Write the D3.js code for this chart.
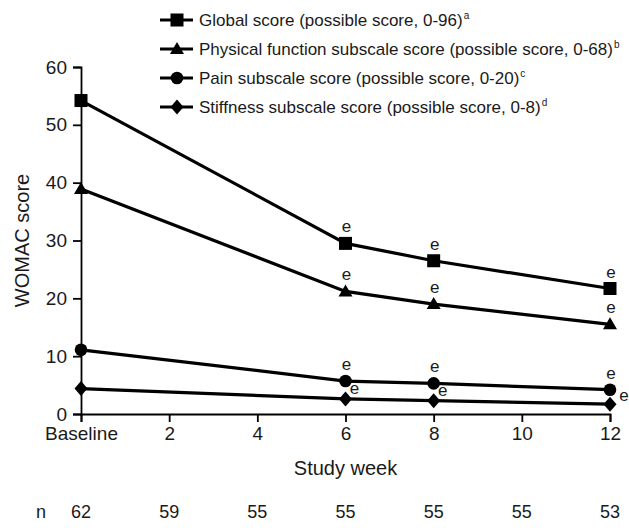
<!DOCTYPE html>
<html>
<head>
<meta charset="utf-8">
<script src="https://cdn.jsdelivr.net/npm/d3@7"></script>
<style>
  body { margin: 0; background: #fff; }
  svg { display: block; font-family: "Liberation Sans", Arial, Helvetica, sans-serif; }
</style>
</head>
<body>
<svg id="chart" width="629" height="528"></svg>
<script>
// Study weeks and WOMAC scores per scale
const weeks = [0, 6, 8, 12];
const globalScore = [54.2, 29.5, 26.5, 21.7];
const physicalScore = [38.9, 21.2, 19.0, 15.5];
const painScore = [11.1, 5.7, 5.3, 4.2];
const stiffnessScore = [4.4, 2.6, 2.3, 1.7];

const seriesNames = [
  "Global score (possible score, 0-96)",
  "Physical function subscale score (possible score, 0-68)",
  "Pain subscale score (possible score, 0-20)",
  "Stiffness subscale score (possible score, 0-8)"
];
const footnotes = ["a", "b", "c", "d"];
const markers = ["square", "triangle", "circle", "diamond"];

const xTicks = [0, 2, 4, 6, 8, 10, 12];
const xTickLabels = ["Baseline", "2", "4", "6", "8", "10", "12"];
const yTicks = [0, 10, 20, 30, 40, 50, 60];
const nWeeks = [0, 2, 4, 6, 8, 10, 12];
const nValues = [62, 59, 55, 55, 55, 55, 53];

// Significance marks ("e") at weeks 6, 8, 12 for every scale
const sigWeeks = [6, 8, 12];

const svg = d3.select("#chart");
const x = d3.scaleLinear().domain([0, 12]).range([81, 610]);
const y = d3.scaleLinear().domain([0, 60]).range([414, 67]);

const ink = "#1a1a1a";
const tickFont = 19;

// Y axis
const yAxis = svg.append("g")
  .attr("transform", `translate(${x(0)},0)`)
  .call(d3.axisLeft(y).tickValues(yTicks).tickSize(8).tickPadding(6));
yAxis.select(".domain").attr("stroke", "#000").attr("stroke-width", 1.8);
yAxis.selectAll(".tick line").attr("stroke", "#000").attr("stroke-width", 1.8);
yAxis.selectAll(".tick text").attr("font-size", tickFont).attr("fill", ink)
  .attr("font-family", "Liberation Sans, Arial, sans-serif");

// X axis
const xAxis = svg.append("g")
  .attr("transform", `translate(0,${y(0)})`)
  .call(d3.axisBottom(x).tickValues(xTicks).tickSize(8).tickPadding(5)
    .tickFormat((d, i) => xTickLabels[i]));
xAxis.select(".domain").attr("stroke", "#000").attr("stroke-width", 1.8);
xAxis.selectAll(".tick line").attr("stroke", "#000").attr("stroke-width", 1.8);
xAxis.selectAll(".tick text").attr("font-size", tickFont).attr("fill", ink)
  .attr("font-family", "Liberation Sans, Arial, sans-serif");

// Axis titles
svg.append("text")
  .attr("x", x(6)).attr("y", 475)
  .attr("text-anchor", "middle").attr("font-size", 20).attr("fill", ink)
  .text("Study week");
svg.append("text")
  .attr("transform", `translate(29,${y(30)}) rotate(-90)`)
  .attr("text-anchor", "middle").attr("font-size", 20).attr("fill", ink)
  .text("WOMAC score");

// Patient counts row
svg.append("text")
  .attr("x", 36).attr("y", 518).attr("font-size", 18).attr("fill", ink).text("n");
svg.selectAll("text.nval").data(nValues).enter().append("text")
  .attr("class", "nval")
  .attr("x", (d, i) => x(nWeeks[i])).attr("y", 518)
  .attr("text-anchor", "middle").attr("font-size", 18).attr("fill", ink)
  .text(d => d);

// Marker shapes
function drawMarker(g, kind, cx, cy) {
  let p;
  if (kind === "square") {
    p = g.append("rect").attr("x", cx - 6.5).attr("y", cy - 6.5)
      .attr("width", 13).attr("height", 13);
  } else if (kind === "circle") {
    p = g.append("circle").attr("cx", cx).attr("cy", cy).attr("r", 6.3);
  } else if (kind === "triangle") {
    p = g.append("path").attr("d",
      `M${cx},${cy - 7}L${cx + 7},${cy + 5}L${cx - 7},${cy + 5}Z`);
  } else {
    p = g.append("path").attr("d",
      `M${cx},${cy - 7.5}L${cx + 6.5},${cy}L${cx},${cy + 7.5}L${cx - 6.5},${cy}Z`);
  }
  p.attr("fill", "#000");
}

const allSeries = [globalScore, physicalScore, painScore, stiffnessScore];
const line = d3.line().x((d, i) => x(weeks[i])).y(d => y(d));

allSeries.forEach((vals, si) => {
  const g = svg.append("g");
  g.append("path").datum(vals)
    .attr("d", line).attr("fill", "none")
    .attr("stroke", "#000").attr("stroke-width", 3.2);
  vals.forEach((v, i) => drawMarker(g, markers[si], x(weeks[i]), y(v)));
  // "e" significance marks
  sigWeeks.forEach(w => {
    const i = weeks.indexOf(w);
    const v = vals[i];
    let ex = x(w) + 1, ey = y(v) - 11;
    if (si === 3) {
      ex = w === 12 ? x(w) + 14 : x(w) + 9;
      ey = w === 12 ? y(v) - 3 : y(v) - 5;
    }
    g.append("text")
      .attr("x", ex).attr("y", ey)
      .attr("text-anchor", "middle").attr("font-size", 17).attr("fill", ink)
      .text("e");
  });
});

// Legend
const legendY = [20, 49, 78, 107];
seriesNames.forEach((name, i) => {
  const g = svg.append("g").attr("transform", `translate(0,${legendY[i]})`);
  g.append("line").attr("x1", 160).attr("x2", 193).attr("y1", 0).attr("y2", 0)
    .attr("stroke", "#000").attr("stroke-width", 3.2);
  drawMarker(g, markers[i], 177, 0);
  const t = g.append("text").attr("x", 199).attr("y", 6)
    .attr("font-size", 17).attr("fill", ink);
  t.append("tspan").text(name);
  t.append("tspan").attr("font-size", 10).attr("dy", -7).attr("dx", 1).text(footnotes[i]);
});
</script>
</body>
</html>
